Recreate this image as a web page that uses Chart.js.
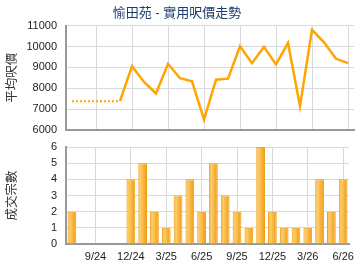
<!DOCTYPE html>
<html>
<head>
<meta charset="utf-8">
<script src="https://cdn.jsdelivr.net/npm/chart.js@4"></script>
<style>
  body { margin: 0; background: #fff; }
  #wrap { position: relative; width: 360px; height: 270px; }
  canvas { position: absolute; left: 0; }
  #priceChart { top: 0; }
  #dealChart { top: 135px; }
</style>
</head>
<body>
<div id="wrap">
  <canvas id="priceChart" width="360" height="140"></canvas>
  <canvas id="dealChart" width="360" height="135"></canvas>
</div>
<script>
// 月份 (2024/7 - 2026/6)
const months = ['7/24','8/24','9/24','10/24','11/24','12/24','1/25','2/25','3/25','4/25','5/25','6/25',
                '7/25','8/25','9/25','10/25','11/25','12/25','1/26','2/26','3/26','4/26','5/26','6/26'];
// 平均呎價
const avgPrice = [7380, 7380, 7380, 7380, 7380, 9060, 8300, 7750, 9170, 8480, 8330, 6500,
                  8410, 8460, 10010, 9200, 9980, 9140, 10170, 7140, 10800, 10200, 9410, 9200];
// 成交宗數
const dealCount = [2, 0, 0, 0, 0, 4, 5, 2, 1, 3, 4, 2,
                   5, 3, 2, 1, 6, 2, 1, 1, 1, 4, 2, 4];
const dottedUntil = 4; // 頭幾個月用虛線

const FONT = '"Liberation Sans", "Noto Sans CJK TC", sans-serif';
const GRID = '#d9d9d9';
const AXIS = '#999999';

// 只在每三個月畫格線
const gridEvery3 = ctx => (ctx.index % 3 === 2 ? GRID : 'rgba(0,0,0,0)');
const fixWidth = scale => { scale.width = 66; };

// y 軸共用設定 (用透明刻度線代替 padding，避免多出的邊距)
function yAxis(min, max, step, title) {
  return {
    min: min,
    max: max,
    afterFit: fixWidth,
    ticks: { stepSize: step, padding: 0, autoSkip: false, color: '#222',
             font: { family: FONT, size: 11 }, callback: v => String(v) },
    grid: { color: GRID, drawTicks: true, tickLength: 9, tickColor: 'rgba(0,0,0,0)' },
    border: { color: AXIS, width: 2 },
    title: {
      display: true,
      text: title,
      color: '#333',
      font: { family: FONT, size: 12.5 },
      padding: { top: 5, bottom: 0 }
    }
  };
}

// 上圖：呎價走勢
new Chart(document.getElementById('priceChart'), {
  type: 'line',
  data: {
    labels: months,
    datasets: [{
      data: avgPrice,
      borderColor: '#FFA500',
      borderWidth: 2.5,
      pointRadius: 0,
      tension: 0,
      segment: {
        borderDash: c => (c.p0DataIndex < dottedUntil ? [2, 2] : undefined),
        borderWidth: c => (c.p0DataIndex < dottedUntil ? 2 : 2.5)
      }
    }]
  },
  options: {
    responsive: false,
    animation: false,
    layout: { padding: { left: 0, right: 6, bottom: 10 } },
    plugins: {
      legend: { display: false },
      tooltip: { enabled: false },
      title: {
        display: true,
        text: '愉田苑 - 實用呎價走勢',
        color: '#1c3d6b',
        font: { family: FONT, size: 13, weight: 'normal' },
        padding: { top: 6, bottom: 4 }
      }
    },
    scales: {
      x: {
        offset: true,
        afterFit: s => { s.height = 0; },
        ticks: { display: false, autoSkip: false },
        grid: { color: gridEvery3, offset: false, drawTicks: false },
        border: { color: AXIS, width: 2 }
      },
      y: yAxis(6000, 11000, 1000, '平均呎價')
    }
  }
});

// 下圖：成交宗數
new Chart(document.getElementById('dealChart'), {
  type: 'bar',
  data: {
    labels: months,
    datasets: [{
      data: dealCount,
      backgroundColor: function (c) {
        const chart = c.chart;
        if (!chart.chartArea) return '#F7B335';
        const x = chart.scales.x.getPixelForValue(c.dataIndex);
        const g = chart.ctx.createLinearGradient(x - 4.5, 0, x + 4.5, 0);
        g.addColorStop(0, '#F6B23A');
        g.addColorStop(0.3, '#FDCB68');
        g.addColorStop(0.65, '#F7B036');
        g.addColorStop(1, '#EE9E12');
        return g;
      },
      borderColor: '#EFA01A',
      borderWidth: 1,
      categoryPercentage: 1,
      barPercentage: 0.74
    }]
  },
  options: {
    responsive: false,
    animation: false,
    layout: { padding: { top: 12, left: 0, right: 6, bottom: 0 } },
    plugins: {
      legend: { display: false },
      tooltip: { enabled: false }
    },
    scales: {
      x: {
        offset: true,
        afterFit: s => { s.height = 26; },
        ticks: {
          autoSkip: false,
          maxRotation: 0,
          padding: 6,
          color: '#222',
          font: { family: FONT, size: 11 },
          callback: (v, i) => (i % 3 === 2 ? months[i] : '')
        },
        grid: { color: gridEvery3, offset: false, drawTicks: false },
        border: { color: AXIS, width: 2 }
      },
      y: yAxis(0, 6, 1, '成交宗數')
    }
  }
});
</script>
</body>
</html>
